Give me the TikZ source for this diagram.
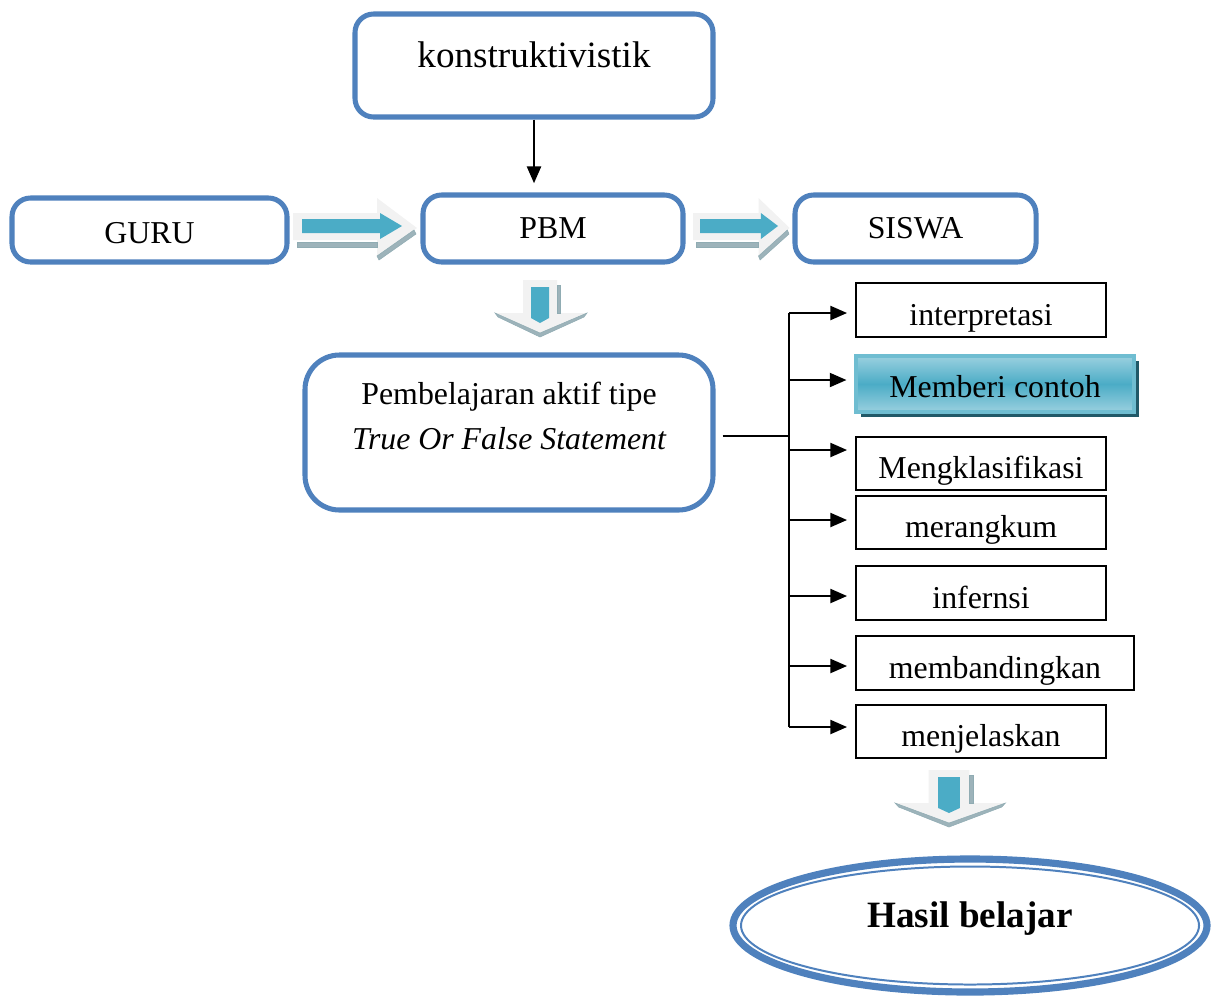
\documentclass[tikz,border=0pt]{standalone}
\usepackage{fontspec}
\setmainfont{Liberation Serif}
\usetikzlibrary{arrows.meta,shapes.geometric,shadows}
\definecolor{bblue}{HTML}{4F81BD}
\definecolor{teal1}{HTML}{4BACC6}
\definecolor{lteal}{HTML}{9AD0DF}
\definecolor{dteal}{HTML}{215968}
\definecolor{agray}{HTML}{F2F2F2}
\definecolor{hatchc}{HTML}{9DB3BA}
\newcommand\harrowshape{%
  \fill[agray] (0,213)--(84,213)--(84,198)--(124,228)--(84,258)--(84,240)--(0,240)--cycle;
  \fill[hatchc,draw=dteal!50,line width=0.2pt] (4,242) rectangle (84,247);
  \fill[hatchc,draw=dteal!50,line width=0.2pt] (84,256)--(121,230)--(123,234)--(86,260)--cycle;
  \fill[teal1] (9,219)--(87,219)--(87,213)--(109,226)--(87,239)--(87,233)--(9,233)--cycle;
}
\newcommand\varrowshape{%
  \fill[agray] (28,0)--(62,0)--(62,33)--(92,33)--(45,53)--(0,33)--(28,33)--cycle;
  \fill[hatchc,draw=dteal!50,line width=0.2pt] (62,5) rectangle (65,33);
  \fill[hatchc,draw=dteal!50,line width=0.2pt] (0,33)--(45,53)--(92,33)--(89,37)--(45,57)--(3,37)--cycle;
  \fill[teal1] (36,7)--(54,7)--(54,38)--(45,43)--(36,38)--cycle;
}
\begin{document}
\begin{tikzpicture}[x=0.377pt,y=-0.377pt,
  font=\fontsize{12}{14}\selectfont,
  bluebox/.style={draw=bblue, line width=1.9pt, rounded corners=7pt, fill=white, inner sep=0pt},
  cbox/.style={draw=black, line width=0.75pt, inner sep=0pt, minimum height=54*0.377pt,
    path picture={\clip (path picture bounding box.north west) rectangle ([yshift=1.9pt]path picture bounding box.south east);
      \node[anchor=base, inner sep=0pt] at ([yshift=4.3pt]path picture bounding box.south) {#1};}},
  arr/.style={-{Triangle[length=6.3pt,width=5.3pt]}, line width=0.75pt},
]
\useasboundingbox (0,0) rectangle (1219,998);

% top boxes
\node[bluebox, minimum width=358*0.377pt, minimum height=103*0.377pt] (konst) at (534,65.5) {};
\node (konsttext) at (534,55) {\fontsize{14}{16}\selectfont konstruktivistik};
\node[bluebox, minimum width=275*0.377pt, minimum height=64*0.377pt, text height=10.3pt, text depth=0.2pt] (guru) at (149.5,230) {GURU};
\node[bluebox, minimum width=260*0.377pt, minimum height=67*0.377pt] (pbm) at (553,228.5) {PBM};
\node[bluebox, minimum width=241*0.377pt, minimum height=67*0.377pt] (siswa) at (915.5,228.5) {SISWA};

\draw[arr, shorten >=3.5pt] (konst.south) -- (konst.south |- pbm.north);

% block arrows
\begin{scope}[shift={(293,0)}] \harrowshape \end{scope}
\begin{scope}[shift={(693,0)}, xscale=0.78] \harrowshape \end{scope}
\begin{scope}[shift={(495,280)}] \varrowshape \end{scope}
\begin{scope}[shift={(895,770)}, xscale=1.2] \varrowshape \end{scope}

% learning box
\node[bluebox, rounded corners=13pt, minimum width=408*0.377pt, minimum height=155*0.377pt] (pa) at (509,432.5) {};
\node (pa1) at (509,397) {Pembelajaran aktif tipe};
\node (pa2) at (509,439) {\itshape True Or False Statement};

% right boxes
\node[cbox={interpretasi}, minimum width=250*0.377pt] (b1) at (981,310) {};
\node[draw=teal1!80, line width=1.2pt, top color=lteal, bottom color=lteal, middle color=teal1,
  minimum width=278*0.377pt, minimum height=56*0.377pt, inner sep=0pt, text height=10pt, text depth=0pt,
  drop shadow={shadow xshift=2pt, shadow yshift=-2pt, fill=dteal, opacity=1}] (b2) at (995,384) {Memberi contoh};
\node[cbox={Mengklasifikasi}, minimum width=250*0.377pt, minimum height=53*0.377pt] (b3) at (981,463.5) {};
\node[cbox={merangkum}, minimum width=250*0.377pt, minimum height=53*0.377pt] (b4) at (981,522.5) {};
\node[cbox={infernsi}, minimum width=250*0.377pt] (b5) at (981,593) {};
\node[cbox={membandingkan}, minimum width=278*0.377pt] (b6) at (995,663) {};
\node[cbox={menjelaskan}, minimum width=250*0.377pt, minimum height=53*0.377pt] (b7) at (981,731.5) {};

% tree connectors
\coordinate (t0) at (789,436);
\coordinate (ttop) at (789,313);
\coordinate (tbot) at (789,727);
\draw[line width=0.75pt] (pa.east |- t0) ++(7,0) -- (t0);
\draw[line width=0.75pt] (ttop) -- (tbot);
\draw[arr, shorten >=3pt] (ttop) -- (ttop -| b1.west);
\draw[arr, shorten >=3pt] (789,380) -- (b2.west |- 0,380);
\draw[arr, shorten >=3pt] (789,450) -- (b3.west |- 0,450);
\draw[arr, shorten >=3pt] (789,520) -- (b4.west |- 0,520);
\draw[arr, shorten >=3pt] (789,596) -- (b5.west |- 0,596);
\draw[arr, shorten >=3pt] (789,666) -- (b6.west |- 0,666);
\draw[arr, shorten >=3pt] (tbot) -- (tbot -| b7.west);

% result ellipse
\node[ellipse, draw=bblue, line width=2.7pt, fill=white, inner sep=0pt,
  minimum width=474*0.377pt, minimum height=133*0.377pt] (hasil) at (970,925.5) {};
\draw[bblue, line width=0.75pt] (hasil.center) ellipse (229 and 59);
\node (hasiltext) at (970,919) {\fontsize{14}{16}\selectfont\bfseries Hasil belajar};
\end{tikzpicture}
\end{document}
